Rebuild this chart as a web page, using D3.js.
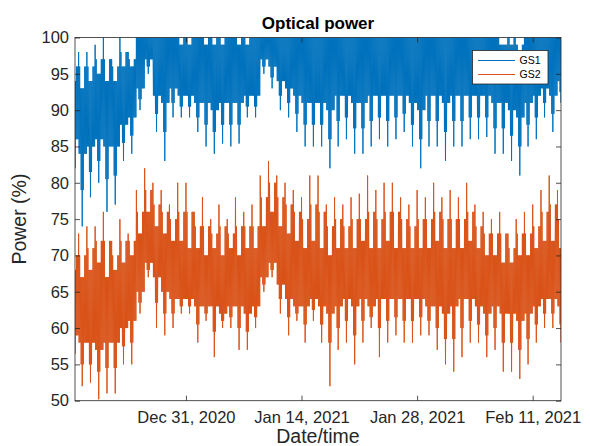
<!DOCTYPE html>
<html>
<head>
<meta charset="utf-8">
<script src="https://cdn.jsdelivr.net/npm/d3@7"></script>
<style>
  body { margin: 0; background: #fff; }
  text { font-family: "Liberation Sans", Arial, Helvetica, sans-serif; }
</style>
</head>
<body>
<div id="chart"></div>
<script>
// Daily readings, first entry is Dec 17, 2020
const firstDay = Date.UTC(2020, 11, 17);
const seriesNames = ["GS1", "GS2"];
const yTicks = [50, 55, 60, 65, 70, 75, 80, 85, 90, 95, 100];
const xTicks = [Date.UTC(2020, 11, 31), Date.UTC(2021, 0, 14), Date.UTC(2021, 0, 28), Date.UTC(2021, 1, 11)];

// GS1: daily peak, side peaks, band top, band bottom, side dips, daily dip
const gs1Max = [97, 98, 98, 99, 100, 97, 100, 98, 100, 100, 100, 100, 100, 100, 100, 100, 100, 100, 100, 100,
  100, 100, 100, 100, 100, 100, 100, 100, 100, 100, 100, 100, 100, 100, 100, 100, 100, 100, 100, 100,
  100, 100, 100, 100, 100, 100, 100, 100, 100, 100, 100, 100, 99, 100, 99, 100, 100, 100, 100, 100];
const gs1Up = [96, 96, 96, 97, 97, 96, 98, 97, 100, 100, 100, 100, 100, 100, 100, 100, 100, 100, 100, 100,
  100, 100, 100, 100, 100, 100, 100, 100, 100, 100, 100, 100, 100, 100, 100, 100, 100, 100, 100, 100,
  100, 100, 100, 100, 100, 100, 100, 100, 100, 100, 100, 100, 99, 100, 99, 100, 100, 100, 100, 100];
const gs1Hi = [94, 93, 94, 95, 94, 94, 96, 96, 100, 100, 100, 100, 100, 99, 99, 100, 99, 99, 99, 100,
  99, 99, 100, 100, 100, 100, 100, 100, 100, 100, 100, 100, 100, 100, 100, 100, 100, 100, 100, 100,
  100, 100, 100, 100, 100, 100, 100, 100, 100, 100, 100, 100, 99, 99, 98, 100, 100, 100, 100, 100];
const gs1Lo = [86, 84, 85, 86, 85, 85, 88, 89, 93, 97, 92, 91, 93, 92, 92, 91, 91, 90, 91, 91,
  91, 92, 92, 97, 96, 94, 93, 92, 91, 91, 91, 90, 92, 92, 91, 91, 92, 92, 92, 92,
  92, 91, 90, 92, 92, 91, 92, 92, 92, 92, 92, 91, 91, 90, 89, 91, 92, 93, 92, 94];
const gs1Dn = [82, 79, 81.5, 83, 80.5, 81, 85.5, 86.5, 91.5, 96, 89.5, 87, 91, 90.5, 90.5, 89, 88, 87, 88, 88,
  88, 90.5, 90.5, 96, 94.5, 92, 91, 89.5, 88, 88, 88, 86, 88.5, 89, 87.5, 87.5, 88.5, 89, 88.5, 89,
  89.5, 88, 86, 88.5, 88.5, 87, 88.5, 88.5, 89, 89, 89, 87.5, 87.5, 86.5, 85, 88, 89, 91, 89.5, 92.5];
const gs1Min = [78.5, 74, 78, 80, 76, 77, 83, 84, 90, 95, 87, 83, 89, 89, 89, 87, 85, 84, 85.4, 85,
  85.4, 89, 89, 95, 93, 90, 89, 87, 85, 85, 85, 82, 85, 86, 84, 84, 85, 86, 85, 86,
  87, 85, 82, 85, 85, 83, 85, 85, 86, 86, 86.3, 84, 84, 83, 81, 85, 86, 89, 87, 91];

// GS2: daily peak, side peaks, band top, band bottom, side dips, daily dip
const gs2Max = [72, 73, 74, 74, 76, 72, 75, 73, 79, 82, 80, 79, 77, 80, 80, 76, 78, 75, 77, 75,
  78, 76, 77, 81, 83, 81, 80, 79, 78, 81, 81, 77, 78, 77, 78, 78.5, 81, 79, 80, 80,
  78, 77, 79, 78, 80, 78, 79, 78, 80, 77, 76, 75, 76, 73, 75, 76, 77, 79, 81, 79];
const gs2Up = [70, 70, 71, 72, 72, 70, 72, 72, 76, 79, 77, 76, 75, 76, 76, 74, 74, 73, 74, 73,
  74, 74, 74, 78, 80, 78, 77, 76, 75, 77, 76, 74, 75, 74, 75, 75, 76, 75, 76, 76,
  75, 74, 75, 75, 76, 75, 75, 75, 76, 74, 73, 73, 73, 71, 73, 73, 74, 76, 77, 75];
const gs2Hi = [68, 67, 68, 69, 67, 68, 69, 70, 73, 76, 74, 73, 72, 72, 71, 71, 70, 71, 70, 71,
  70, 71, 71, 74, 76, 74, 73, 72, 71, 72, 71, 70, 71, 71, 71, 72, 71, 71, 72, 71,
  71, 71, 71, 71, 72, 71, 71, 71, 72, 71, 70, 70, 69, 69, 70, 70, 71, 72, 72, 71];
const gs2Lo = [59, 58, 58, 57, 58, 58, 60, 61, 65, 69, 67, 65, 64, 64, 64, 63, 63, 63, 62, 63,
  63, 62, 63, 67, 69, 66, 64, 63, 63, 64, 63, 62, 63, 64, 63, 64, 63, 64, 64, 64,
  64, 64, 64, 63, 63, 62, 63, 64, 64, 63, 62, 63, 62, 62, 61, 62, 63, 64, 64, 63];
const gs2Dn = [56.5, 55, 55, 54, 54.5, 54.5, 57.5, 58, 63.5, 68, 63.5, 62, 62, 63, 63, 60.5, 62, 59.5, 61, 61.5,
  60, 59.5, 61.5, 66, 68, 64, 61.5, 62, 60.5, 62.5, 60.5, 58, 60, 61, 59, 61, 61.5, 60, 61, 61.5,
  61, 61, 61.5, 61, 60, 58.5, 58.5, 60, 61, 60.5, 59, 60, 58, 58, 57, 58.5, 60.5, 62, 62, 60.5];
const gs2Min = [54.3, 52, 52.5, 50.2, 51, 51, 55, 55, 62, 67, 60, 59, 60, 62, 62, 58, 61, 56, 60, 60,
  57, 57, 60, 65, 67, 62, 59, 61, 58, 61, 58, 52, 57, 58, 55, 58, 60, 56, 58, 59,
  58, 58, 59, 59, 57, 55, 54, 56, 58, 58, 56, 57, 54, 54, 53, 55, 58, 60, 60, 58];

const colors = ["#0072BD", "#D95319"];
const axisColor = "#262626";

const width = 590, height = 446;
const margin = { top: 37.5, right: 29, bottom: 45.3, left: 75 };
const plotW = width - margin.left - margin.right;
const plotH = height - margin.top - margin.bottom;

const svg = d3.select("#chart").append("svg")
  .attr("width", width)
  .attr("height", height);

const x = d3.scaleUtc()
  .domain([Date.UTC(2020, 11, 17, 13, 30), Date.UTC(2021, 1, 14, 10, 15)])
  .range([0, plotW]);
const y = d3.scaleLinear().domain([50, 100]).range([plotH, 0]);

const g = svg.append("g").attr("transform", `translate(${margin.left},${margin.top})`);

g.append("clipPath").attr("id", "plot-clip")
  .append("rect").attr("width", plotW).attr("height", plotH);

// order the day's readings are visited in (upper and lower alternate)
// 0 = peak, 1 = side peak, 2 = band top, 3 = band bottom, 4 = side dip, 5 = dip
const dayOrder = [0, 3, 1, 3, 2, 4, 2, 5, 2, 4, 2, 3, 1, 3, 1, 3];

const buildPoints = (levels) => {
  const pts = [];
  levels[0].forEach((v, i) => {
    const day = firstDay + i * 864e5;
    dayOrder.forEach((k, j) => pts.push({ t: day + j * 864e5 / dayOrder.length, v: levels[k][i] }));
  });
  return pts;
};

const series = [
  buildPoints([gs1Max, gs1Up, gs1Hi, gs1Lo, gs1Dn, gs1Min]),
  buildPoints([gs2Max, gs2Up, gs2Hi, gs2Lo, gs2Dn, gs2Min])
];

const line = d3.line().x(d => x(d.t)).y(d => y(d.v));

g.append("g").attr("clip-path", "url(#plot-clip)")
  .selectAll("path")
  .data(series)
  .enter()
  .append("path")
  .attr("d", line)
  .attr("fill", "none")
  .attr("stroke", (d, i) => colors[i])
  .attr("stroke-width", 1)
  .attr("stroke-linejoin", "miter");

// axes, ticks pointing inward like MATLAB
const styleAxis = (sel) => {
  sel.selectAll("path.domain").remove();
  sel.selectAll("line").attr("stroke", axisColor).attr("stroke-width", 0.8);
  sel.selectAll("text").attr("fill", axisColor).style("font-size", "16.5px");
};

g.append("g")
  .call(d3.axisLeft(y).tickValues(yTicks).tickSizeInner(-5).tickSizeOuter(0).tickPadding(6))
  .call(styleAxis);
g.append("g").attr("transform", `translate(${plotW},0)`)
  .call(d3.axisRight(y).tickValues(yTicks).tickSizeInner(-5).tickSizeOuter(0).tickFormat(""))
  .call(styleAxis);
g.append("g").attr("transform", `translate(0,${plotH})`)
  .call(d3.axisBottom(x).tickValues(xTicks).tickSizeInner(-5).tickSizeOuter(0).tickPadding(11)
    .tickFormat(d3.utcFormat("%b %d, %Y")))
  .call(styleAxis);
g.append("g")
  .call(d3.axisTop(x).tickValues(xTicks).tickSizeInner(-5).tickSizeOuter(0).tickFormat(""))
  .call(styleAxis);

g.append("rect")
  .attr("width", plotW).attr("height", plotH)
  .attr("fill", "none")
  .attr("stroke", axisColor)
  .attr("stroke-width", 0.8);

// title and labels
svg.append("text")
  .attr("x", margin.left + plotW / 2).attr("y", 29)
  .attr("text-anchor", "middle")
  .style("font-size", "17px").style("font-weight", "bold")
  .attr("fill", "#000")
  .text("Optical power");

svg.append("text")
  .attr("x", margin.left + plotW / 2).attr("y", 443)
  .attr("text-anchor", "middle")
  .style("font-size", "19.5px")
  .attr("fill", axisColor)
  .text("Date/time");

svg.append("text")
  .attr("transform", `translate(26,${margin.top + plotH / 2}) rotate(-90)`)
  .attr("text-anchor", "middle")
  .style("font-size", "19.5px")
  .attr("fill", axisColor)
  .text("Power (%)");

// legend
const legend = svg.append("g").attr("transform", "translate(472.5,50.5)");
legend.append("rect")
  .attr("width", 75.5).attr("height", 33.5)
  .attr("fill", "#fff")
  .attr("stroke", axisColor)
  .attr("stroke-width", 0.8);
const entry = legend.selectAll("g.entry")
  .data(seriesNames)
  .enter()
  .append("g")
  .attr("class", "entry")
  .attr("transform", (d, i) => `translate(0,${10 + i * 14})`);
entry.append("line")
  .attr("x1", 5.5).attr("x2", 42.5)
  .attr("stroke", (d, i) => colors[i])
  .attr("stroke-width", 1);
entry.append("text")
  .attr("x", 47).attr("dy", "0.36em")
  .style("font-size", "10.5px")
  .attr("fill", "#000")
  .text(d => d);
</script>
</body>
</html>
